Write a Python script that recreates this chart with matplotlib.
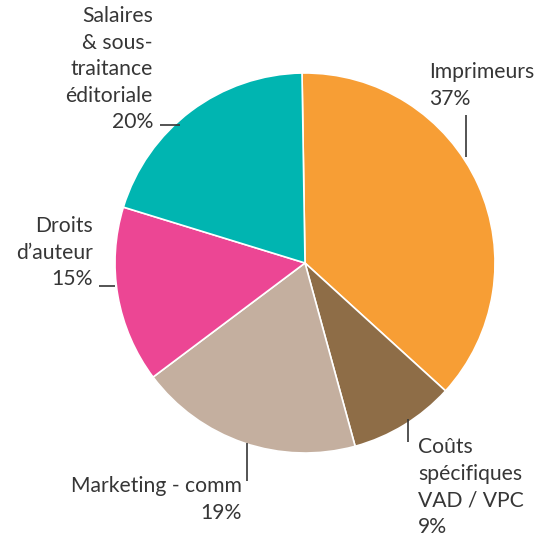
import matplotlib
matplotlib.use("Agg")
import matplotlib.pyplot as plt

W, H = 540, 537

labels = [
    "Imprimeurs\n37%",
    "Coûts\nspécifiques\nVAD / VPC\n9%",
    "Marketing - comm\n19%",
    "Droits\nd\u2019auteur\n15%",
    "Salaires\n& sous-\ntraitance\néditoriale\n20%",
]
shares = [37, 9, 19, 15, 20]
colors = ["#F79E35", "#8E6D47", "#C4AF9F", "#EC4694", "#00B5B1"]

plt.rcParams["font.family"] = ["Lato", "DejaVu Sans"]
text_color = "#363636"


def py(y):
    # image pixel row -> data y
    return H - y


fig = plt.figure(figsize=(W / 100, H / 100), dpi=100)
ax = fig.add_axes([0, 0, 1, 1])
ax.pie(
    shares,
    colors=colors,
    center=(305, py(263)),
    radius=190,
    startangle=90.9,
    counterclock=False,
    wedgeprops={"edgecolor": "white", "linewidth": 1.2},
    frame=True,
)
ax.set_xlim(0, W)
ax.set_ylim(0, H)
ax.set_aspect("equal")
ax.axis("off")

# label placement: (x, top y in pixels, alignment)
placements = [
    (429, 62, "left"),
    (418, 437, "left"),
    (242, 476, "right"),
    (93, 216, "right"),
    (153, 6, "right"),
]
for text, (x, y, ha) in zip(labels, placements):
    ax.text(x, py(y), text, ha=ha, va="top", fontsize=15.2,
            color=text_color, linespacing=1.41, multialignment=ha)

leaders = [
    ((466, 466), (115, 157)),
    ((408, 408), (419, 442)),
    ((247, 247), (443, 481)),
    ((99, 115), (286, 286)),
    ((160, 180), (125, 125)),
]
for xs, ys in leaders:
    ax.plot(xs, [py(v) for v in ys], color=text_color, linewidth=1.2,
            solid_capstyle="butt")

fig.savefig("out.png", dpi=100)
